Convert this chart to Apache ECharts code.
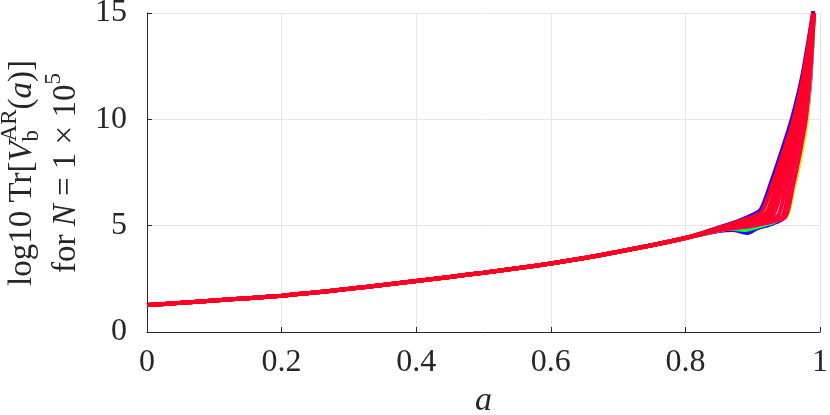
<!DOCTYPE html>
<html style="height: 100%">
<head>
    <meta charset="utf-8">
    <title>log10 Tr</title>
</head>
<body style="height: 100%; margin: 0; background: #fff">
    <div id="container" style="width: 830px; height: 415px"></div>
    <script src="https://cdn.jsdelivr.net/npm/echarts@6/dist/echarts.min.js"></script>
    <script type="text/javascript">
        // shared part of every curve (they overlap up to a = 0.8)
        var aBase = [0, 0.05, 0.1, 0.15, 0.2, 0.25, 0.3, 0.35, 0.4, 0.45, 0.5, 0.55, 0.6, 0.65, 0.7, 0.75, 0.8];
        var trBase = [1.27, 1.37, 1.48, 1.59, 1.71, 1.86, 2.03, 2.21, 2.40, 2.59, 2.79, 3.00, 3.22, 3.48, 3.77, 4.08, 4.42];

        // tails, where the curves split apart (a > 0.8); coloured ones first, red ones on top
        var aBlueDip = [0.85, 0.87, 0.893, 0.905, 0.93, 0.948, 0.96, 0.97, 0.98, 0.986, 0.991];
        var trBlueDip = [4.75, 4.80, 4.66, 4.85, 5.10, 5.40, 6.70, 8.10, 10.0, 12.0, 15.0];
        var aGreenDip = [0.85, 0.87, 0.89, 0.905, 0.93, 0.945, 0.955, 0.968, 0.978, 0.986, 0.991];
        var trGreenDip = [4.78, 4.85, 4.80, 4.92, 5.15, 5.45, 6.40, 8.20, 10.0, 12.2, 15.0];
        var aYellow = [0.85, 0.88, 0.91, 0.935, 0.951, 0.962, 0.972, 0.981, 0.991];
        var trYellow = [4.80, 4.95, 5.05, 5.25, 5.45, 6.90, 8.30, 10.0, 15.0];
        var aBlueTop = [0.85, 0.88, 0.911, 0.928, 0.943, 0.958, 0.974, 0.99];
        var trBlueTop = [4.92, 5.24, 5.72, 7.10, 8.50, 10.0, 12.1, 15.1];
        var aMagenta = [0.85, 0.88, 0.91, 0.925, 0.94, 0.955, 0.968, 0.98, 0.991];
        var trMagenta = [4.82, 5.05, 5.35, 5.50, 7.00, 8.60, 10.0, 12.0, 15.0];

        var aRed1 = [0.85, 0.88, 0.913, 0.93, 0.945, 0.96, 0.975, 0.99];
        var trRed1 = [4.90, 5.20, 5.62, 7.00, 8.40, 9.90, 12.0, 15.0];
        var aRed2 = [0.85, 0.88, 0.92, 0.935, 0.95, 0.963, 0.977, 0.99];
        var trRed2 = [4.87, 5.15, 5.60, 7.00, 8.50, 10.0, 12.1, 15.0];
        var aRed3 = [0.85, 0.89, 0.925, 0.94, 0.955, 0.967, 0.98, 0.991];
        var trRed3 = [4.85, 5.20, 5.52, 7.00, 8.60, 10.0, 12.2, 15.0];
        var aRed4 = [0.85, 0.89, 0.93, 0.945, 0.958, 0.97, 0.982, 0.991];
        var trRed4 = [4.83, 5.15, 5.50, 7.00, 8.50, 10.0, 12.3, 15.0];
        var aRed5 = [0.85, 0.89, 0.937, 0.95, 0.962, 0.973, 0.984, 0.991];
        var trRed5 = [4.82, 5.10, 5.45, 7.00, 8.60, 10.0, 12.4, 15.0];
        var aRed6 = [0.85, 0.89, 0.943, 0.955, 0.966, 0.976, 0.985, 0.991];
        var trRed6 = [4.80, 5.05, 5.40, 7.00, 8.60, 10.0, 12.4, 15.0];
        var aRed7 = [0.85, 0.9, 0.948, 0.96, 0.97, 0.979, 0.986, 0.991];
        var trRed7 = [4.80, 5.00, 5.40, 6.90, 8.40, 10.0, 12.3, 15.0];

        var tails = [
            [aBlueDip, trBlueDip, '#2a00ff'],
            [aGreenDip, trGreenDip, '#00ff40'],
            [aYellow, trYellow, '#c8ff00'],
            [aBlueTop, trBlueTop, '#3000ff'],
            [aMagenta, trMagenta, '#ff00d0'],
            [aRed7, trRed7, '#ff0040'],
            [aRed6, trRed6, '#ff0038'],
            [aRed5, trRed5, '#ff0030'],
            [aRed4, trRed4, '#ff0030'],
            [aRed3, trRed3, '#ff0028'],
            [aRed2, trRed2, '#ff0028'],
            [aRed1, trRed1, '#ff0020']
        ];

        var xTicks = [0, 0.2, 0.4, 0.6, 0.8, 1];
        var yTicks = [0, 5, 10, 15];

        var serif = '"Liberation Serif", "DejaVu Serif", serif';
        var ink = '#262626';

        var series = tails.map(function (t) {
            var d = [];
            for (var i = 0; i < aBase.length; i++) d.push([aBase[i], trBase[i]]);
            for (var j = 0; j < t[0].length; j++) d.push([t[0][j], t[1][j]]);
            return {
                type: 'line',
                data: d,
                showSymbol: false,
                smooth: 0.2,
                lineStyle: { color: t[2], width: 4 },
                itemStyle: { color: t[2] },
                emphasis: { disabled: true },
                animation: false
            };
        });

        // y axis title, rotated, laid out piece by piece (sub/superscripts)
        var cv = document.createElement('canvas').getContext('2d');
        function fontOf(size, italic) {
            return (italic ? 'italic ' : '') + size + 'px ' + serif;
        }
        function width(txt, size, italic) {
            cv.font = fontOf(size, italic);
            return cv.measureText(txt).width;
        }
        function titleLine(pieces, px, py) {
            var items = [];
            var x = 0;
            pieces.forEach(function (p) {
                if (p.t !== undefined) {
                    items.push({ t: p.t, s: p.s, i: p.i, x: x, y: 0 });
                    x += width(p.t, p.s, p.i);
                } else {
                    var w = 0;
                    if (p.sup) { items.push({ t: p.sup, s: p.s, x: x, y: -12 }); w = Math.max(w, width(p.sup, p.s)); }
                    if (p.sub) { items.push({ t: p.sub, s: p.s, x: x, y: 10 }); w = Math.max(w, width(p.sub, p.s)); }
                    x += w;
                }
            });
            var half = x / 2;
            return {
                type: 'group',
                x: px,
                y: py,
                rotation: Math.PI / 2,
                children: items.map(function (it) {
                    return {
                        type: 'text',
                        x: it.x - half,
                        y: it.y,
                        style: {
                            text: it.t,
                            font: fontOf(it.s, it.i),
                            fill: ink,
                            align: 'left',
                            verticalAlign: 'middle'
                        }
                    };
                })
            };
        }

        var line1 = [
            { t: 'log10 Tr[', s: 33 }, { t: 'V', s: 33, i: true },
            { sup: 'AR', sub: 'b', s: 23 },
            { t: '(', s: 33 }, { t: 'a', s: 33, i: true }, { t: ')]', s: 33 }
        ];
        var line2 = [
            { t: 'for ', s: 33 }, { t: 'N', s: 33, i: true },
            { t: ' = 1 \u00d7 10', s: 33 }, { sup: '5', s: 23 }
        ];

        var myChart = echarts.init(document.getElementById('container'), null, { renderer: 'canvas' });
        var option = {
            backgroundColor: '#ffffff',
            animation: false,
            grid: { left: 147, right: 10, top: 13, bottom: 83, containLabel: false, outerBoundsMode: 'none' },
            xAxis: {
                type: 'value',
                min: xTicks[0],
                max: xTicks[xTicks.length - 1],
                interval: 0.2,
                name: 'a',
                nameLocation: 'middle',
                nameGap: 49,
                nameTextStyle: { fontFamily: serif, fontStyle: 'italic', fontSize: 34, color: ink },
                axisLine: { show: true, onZero: false, lineStyle: { color: ink, width: 1 } },
                axisTick: { show: true, inside: true, length: 5, lineStyle: { color: ink } },
                axisLabel: { fontFamily: serif, fontSize: 32, color: ink, margin: 15 },
                splitLine: { show: true, lineStyle: { color: '#e6e6e6', width: 1 } }
            },
            yAxis: {
                type: 'value',
                min: yTicks[0],
                max: yTicks[yTicks.length - 1],
                interval: 5,
                axisLine: { show: true, onZero: false, lineStyle: { color: ink, width: 1 } },
                axisTick: { show: true, inside: true, length: 5, lineStyle: { color: ink } },
                axisLabel: { fontFamily: serif, fontSize: 32, color: ink, margin: 20 },
                splitLine: { show: true, lineStyle: { color: '#e6e6e6', width: 1 } }
            },
            graphic: [
                titleLine(line1, 22, 173),
                titleLine(line2, 66, 173)
            ],
            series: series
        };
        myChart.setOption(option);
    </script>
</body>
</html>
